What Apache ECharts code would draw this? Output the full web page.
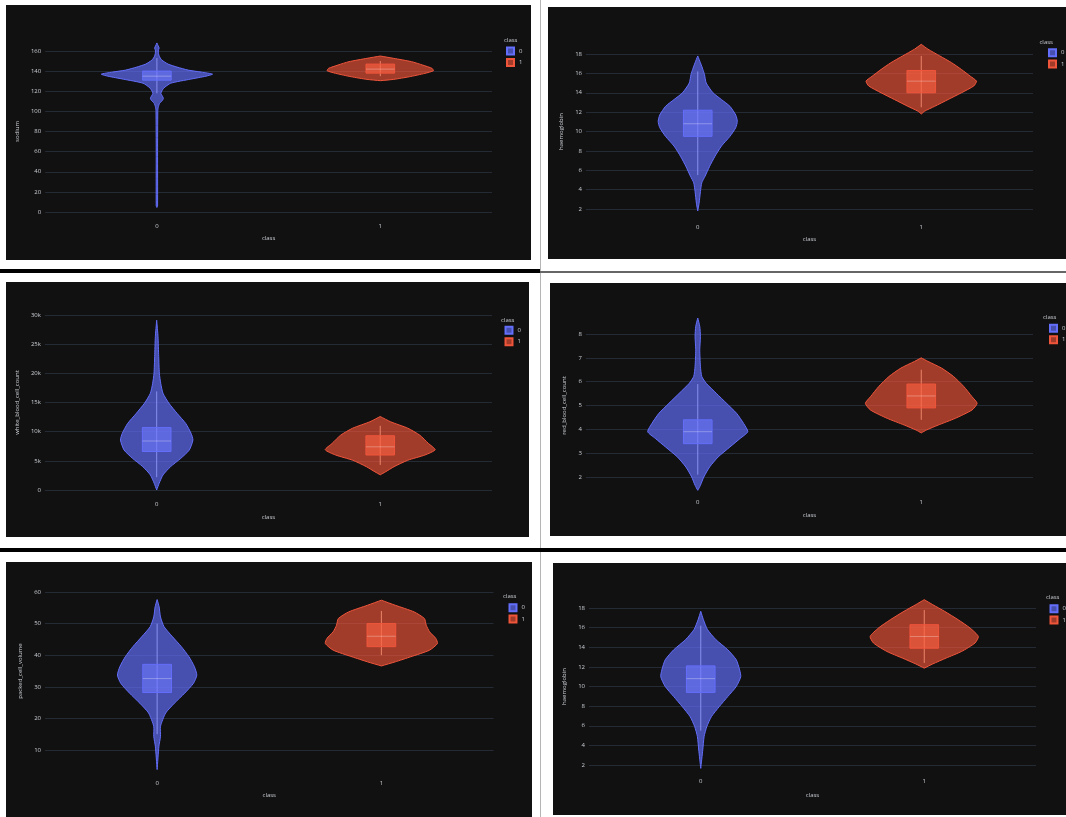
<!DOCTYPE html>
<html>
<head>
<meta charset="utf-8">
<script src="https://cdn.jsdelivr.net/npm/echarts@6/dist/echarts.min.js"></script>
<style>
  html, body { margin: 0; padding: 0; background: #fff; }
  #page { position: relative; width: 1066px; height: 817px; overflow: hidden; background: #fff; }
  .panel { position: absolute; background: #111111; }
  .sep { position: absolute; background: #000; }
</style>
</head>
<body>
<div id="page">
  <div class="sep" style="left:540px;top:0;width:1px;height:817px;background:#b5b5b5"></div>
  <div class="sep" style="left:0;top:269px;width:540px;height:4px"></div>
  <div class="sep" style="left:540px;top:271px;width:526px;height:2px;background:#666"></div>
  <div class="sep" style="left:0;top:548px;width:1066px;height:4px"></div>
  <div class="panel" id="p1" style="left:6px;top:5px;width:525px;height:255px"></div>
  <div class="panel" id="p2" style="left:548px;top:7px;width:518px;height:252px"></div>
  <div class="panel" id="p3" style="left:6px;top:282px;width:523px;height:255px"></div>
  <div class="panel" id="p4" style="left:550px;top:283px;width:516px;height:253px"></div>
  <div class="panel" id="p5" style="left:6px;top:562px;width:526px;height:255px"></div>
  <div class="panel" id="p6" style="left:553px;top:563px;width:513px;height:252px"></div>
</div>
<script type="text/javascript">
// categories (x axis and legend)
var classes = ['0', '1'];
var xTitle = 'class';
var yTitles = ['sodium', 'haemoglobin', 'white_blood_cell_count', 'red_blood_cell_count', 'packed_cell_volume', 'haemoglobin'];

// y tick values of each panel
var naTicks = [0, 20, 40, 60, 80, 100, 120, 140, 160];
var hemoTicks = [2, 4, 6, 8, 10, 12, 14, 16, 18];
var wbcTicks = [0, 5000, 10000, 15000, 20000, 25000, 30000];
var rbcTicks = [2, 3, 4, 5, 6, 7, 8];
var pcvTicks = [10, 20, 30, 40, 50, 60];

// violin outlines: [value, half width as share of the category band]
// box: [lower whisker, q1, median, q3, upper whisker]
var naViolin0 = [[4.5,0],[6,0.003],[60,0.003],[100,0.004],[104,0.006],[108,0.012],[111,0.025],[113,0.029],[115,0.025],[118,0.018],[123,0.03],[128,0.062],[132,0.15],[135,0.22],[137,0.249],[139,0.2],[141,0.14],[144,0.09],[147,0.05],[151,0.022],[155,0.01],[160,0.006],[163,0.01],[165,0.006],[168,0]];
var naBox0 = [118, 131, 135, 140, 153];
var naViolin1 = [[130.5,0],[131.8,0.06],[134.4,0.13],[137.8,0.2],[140.4,0.238],[142.7,0.232],[146,0.19],[149.4,0.14],[152.7,0.06],[155,0]];
var naBox1 = [135, 138, 142, 147, 150];

var hemoViolin0 = [[1.8,0],[2.6,0.006],[3.8,0.012],[4.7,0.018],[5.4,0.033],[6.4,0.053],[7.4,0.076],[8.5,0.106],[9.5,0.144],[10.4,0.17],[11.05,0.177],[11.7,0.17],[12.6,0.144],[13.3,0.106],[14,0.068],[15,0.038],[15.9,0.03],[16.4,0.023],[17.1,0.012],[17.8,0]];
var hemoBox0 = [5.5, 9.5, 10.8, 12.2, 16.2];
var hemoViolin1 = [[11.8,0],[12.1,0.015],[12.6,0.06],[13.3,0.12],[14,0.18],[14.7,0.235],[15.2,0.247],[15.7,0.22],[16.4,0.18],[17.1,0.136],[17.8,0.083],[18.5,0.03],[19,0]];
var hemoBox1 = [12.5, 14.0, 15.2, 16.3, 17.8];

var wbcViolin0 = [[0,0],[1140,0.011],[2570,0.028],[4000,0.062],[5430,0.108],[6860,0.146],[8570,0.162],[9700,0.154],[11400,0.13],[13100,0.092],[14900,0.054],[16600,0.028],[18300,0.018],[20000,0.012],[22900,0.009],[26300,0.006],[29100,0]];
var wbcBox0 = [2200, 6600, 8400, 10700, 16900];
var wbcViolin1 = [[2600,0],[3100,0.023],[4000,0.062],[5100,0.123],[6000,0.2],[6900,0.246],[8000,0.215],[9400,0.177],[10600,0.123],[11700,0.046],[12600,0]];
var wbcBox1 = [4300, 6000, 7400, 9300, 11000];

var rbcViolin0 = [[1.44,0],[1.65,0.012],[2.0,0.027],[2.42,0.053],[2.84,0.091],[3.26,0.144],[3.62,0.19],[3.9,0.224],[4.25,0.205],[4.67,0.174],[5.09,0.129],[5.51,0.083],[5.93,0.038],[6.22,0.018],[6.64,0.012],[7.34,0.009],[7.9,0.012],[8.32,0.009],[8.67,0]];
var rbcBox0 = [2.1, 3.4, 3.9, 4.4, 5.9];
var rbcViolin1 = [[3.85,0],[3.97,0.023],[4.18,0.076],[4.46,0.152],[4.81,0.227],[5.09,0.25],[5.37,0.227],[5.8,0.19],[6.22,0.144],[6.57,0.091],[6.85,0.03],[7,0]];
var rbcBox1 = [4.4, 4.9, 5.4, 5.9, 6.5];

var pcvViolin0 = [[3.8,0],[11.2,0.008],[14.3,0.015],[17.5,0.015],[21.7,0.038],[24.8,0.077],[28,0.123],[31.1,0.162],[33.7,0.177],[36.4,0.166],[39.5,0.142],[42.7,0.108],[45.8,0.069],[49,0.031],[52.1,0.015],[55.3,0.009],[57.6,0]];
var pcvBox0 = [15, 28.2, 32.6, 37.1, 50];
var pcvViolin1 = [[36.6,0],[37.9,0.062],[39.5,0.131],[41.6,0.215],[43.7,0.25],[45.3,0.243],[47.4,0.215],[49.5,0.2],[51.6,0.192],[53.7,0.146],[55.8,0.062],[57.4,0]];
var pcvBox1 = [40, 42.7, 46, 50, 54];

var hemo2Violin0 = [[1.66,0],[3.53,0.009],[4.9,0.015],[5.91,0.027],[6.94,0.048],[7.96,0.083],[8.98,0.121],[10,0.159],[11,0.179],[11.7,0.174],[12.72,0.159],[13.74,0.121],[14.77,0.068],[15.8,0.03],[16.8,0.012],[17.66,0]];
var hemo2Box0 = [5.5, 9.4, 10.8, 12.1, 16.2];
var hemo2Violin1 = [[11.87,0],[12.3,0.038],[12.9,0.098],[13.57,0.167],[14.43,0.227],[15.1,0.242],[15.96,0.205],[16.8,0.152],[17.66,0.091],[18.34,0.038],[18.85,0]];
var hemo2Box1 = [12.4, 13.9, 15.1, 16.3, 17.8];

var BOX_HALF = 0.064;
var TEXT = '#c9cdd3';
var GRID_LINE = '#252b34';
var FONT = 'Open Sans';
var styles = [
    {stroke: '#636efa', fill: 'rgba(99,110,250,0.68)', box: 'rgba(110,120,255,0.6)', whisker: 'rgba(150,158,255,0.8)'},
    {stroke: '#ef553b', fill: 'rgba(239,85,59,0.65)', box: 'rgba(250,95,65,0.65)', whisker: 'rgba(255,150,120,0.8)'}
];

function violinRenderer(profile, box, st) {
    return function (params, api) {
        var cat = api.value(0);
        var band = api.size([1, 0])[0];
        var right = [], left = [];
        profile.forEach(function (p) {
            var c = api.coord([cat, p[0]]);
            right.push([c[0] + p[1] * band, c[1]]);
            left.unshift([c[0] - p[1] * band, c[1]]);
        });
        var lo = api.coord([cat, box[0]]);
        var q1 = api.coord([cat, box[1]]);
        var md = api.coord([cat, box[2]]);
        var q3 = api.coord([cat, box[3]]);
        var hi = api.coord([cat, box[4]]);
        var bw = BOX_HALF * band;
        return {
            type: 'group',
            children: [
                {type: 'polygon', shape: {points: right.concat(left), smooth: 0.2},
                    style: {fill: st.fill, stroke: st.stroke, lineWidth: 1}},
                {type: 'line', shape: {x1: lo[0], y1: lo[1], x2: hi[0], y2: hi[1]},
                    style: {stroke: st.whisker, lineWidth: 1}},
                {type: 'rect', shape: {x: q3[0] - bw, y: q3[1], width: 2 * bw, height: q1[1] - q3[1]},
                    style: {fill: st.box, stroke: st.stroke, lineWidth: 1}},
                {type: 'line', shape: {x1: md[0] - bw, y1: md[1], x2: md[0] + bw, y2: md[1]},
                    style: {stroke: 'rgba(255,255,255,0.3)', lineWidth: 1}}
            ]
        };
    };
}

// layout of each picture: grid, label offsets, legend place
var panels = [
    {id: 'p1', ticks: naTicks, violins: [naViolin0, naViolin1], boxes: [naBox0, naBox1],
        grid: {left: 39, right: 39, top: 46, bottom: 48}, xMargin: 11, xGap: 23, yGap: 23,
        legend: {titleLeft: 498, titleTop: 32.5, left: 500, top: 41.5}},
    {id: 'p2', ticks: hemoTicks, violins: [hemoViolin0, hemoViolin1], boxes: [hemoBox0, hemoBox1],
        grid: {left: 38, right: 33, top: 47, bottom: 50}, xMargin: 15, xGap: 27, yGap: 18,
        legend: {titleLeft: 491.5, titleTop: 32, left: 500, top: 41.2}},
    {id: 'p3', ticks: wbcTicks, violins: [wbcViolin0, wbcViolin1], boxes: [wbcBox0, wbcBox1],
        grid: {left: 38, right: 37, top: 33, bottom: 47}, xMargin: 11, xGap: 24, yGap: 19,
        legend: {titleLeft: 495, titleTop: 35, left: 498.5, top: 43.8},
        fmt: function (v) { return v === 0 ? '0' : (v / 1000) + 'k'; }},
    {id: 'p4', ticks: rbcTicks, violins: [rbcViolin0, rbcViolin1], boxes: [rbcBox0, rbcBox1],
        grid: {left: 36, right: 33, top: 51, bottom: 59}, xMargin: 22, xGap: 35, yGap: 16,
        legend: {titleLeft: 493, titleTop: 31, left: 499, top: 40.8}},
    {id: 'p5', ticks: pcvTicks, violins: [pcvViolin0, pcvViolin1], boxes: [pcvBox0, pcvBox1],
        grid: {left: 39, right: 38.5, top: 30, bottom: 67}, xMargin: 30, xGap: 42, yGap: 19,
        legend: {titleLeft: 497, titleTop: 31.5, left: 502.5, top: 41.2}},
    {id: 'p6', ticks: hemoTicks, violins: [hemo2Violin0, hemo2Violin1], boxes: [hemo2Box0, hemo2Box1],
        grid: {left: 36, right: 30, top: 45, bottom: 50}, xMargin: 13, xGap: 27, yGap: 19,
        legend: {titleLeft: 493, titleTop: 31.5, left: 496.5, top: 41.2}}
];

panels.forEach(function (p, k) {
    var chart = echarts.init(document.getElementById(p.id), null, {renderer: 'canvas'});
    var t = p.ticks;
    var series = classes.map(function (name, i) {
        return {
            name: name,
            type: 'custom',
            clip: false,
            itemStyle: {color: styles[i].fill, borderColor: styles[i].stroke, borderWidth: 1},
            renderItem: violinRenderer(p.violins[i], p.boxes[i], styles[i]),
            data: [[i]]
        };
    });
    chart.setOption({
        animation: false,
        backgroundColor: '#111111',
        textStyle: {fontFamily: FONT},
        title: {text: 'class', left: p.legend.titleLeft, top: p.legend.titleTop, padding: 0,
            textStyle: {color: TEXT, fontSize: 6, fontWeight: 'normal', fontFamily: FONT}},
        legend: {
            orient: 'vertical', left: p.legend.left, top: p.legend.top, padding: 0,
            itemWidth: 7, itemHeight: 7, itemGap: 2.4, icon: 'rect',
            textStyle: {color: TEXT, fontSize: 6, fontFamily: FONT, padding: [0, 0, 0, 0]},
            data: classes
        },
        grid: p.grid,
        xAxis: {
            type: 'category', data: classes, boundaryGap: true,
            name: xTitle, nameLocation: 'middle', nameGap: p.xGap,
            nameTextStyle: {color: TEXT, fontSize: 6, fontFamily: FONT},
            axisLine: {show: false}, axisTick: {show: false}, splitLine: {show: false},
            axisLabel: {color: TEXT, fontSize: 6, margin: p.xMargin, fontFamily: FONT}
        },
        yAxis: {
            type: 'value', min: t[0], max: t[t.length - 1], interval: t[1] - t[0],
            name: yTitles[k], nameLocation: 'middle', nameGap: p.yGap,
            nameTextStyle: {color: TEXT, fontSize: 6, fontFamily: FONT},
            axisLine: {show: false}, axisTick: {show: false},
            splitLine: {show: true, lineStyle: {color: GRID_LINE, width: 1}},
            axisLabel: {color: TEXT, fontSize: 6, margin: 4, fontFamily: FONT, formatter: p.fmt}
        },
        series: series
    });
});
</script>
</body>
</html>
